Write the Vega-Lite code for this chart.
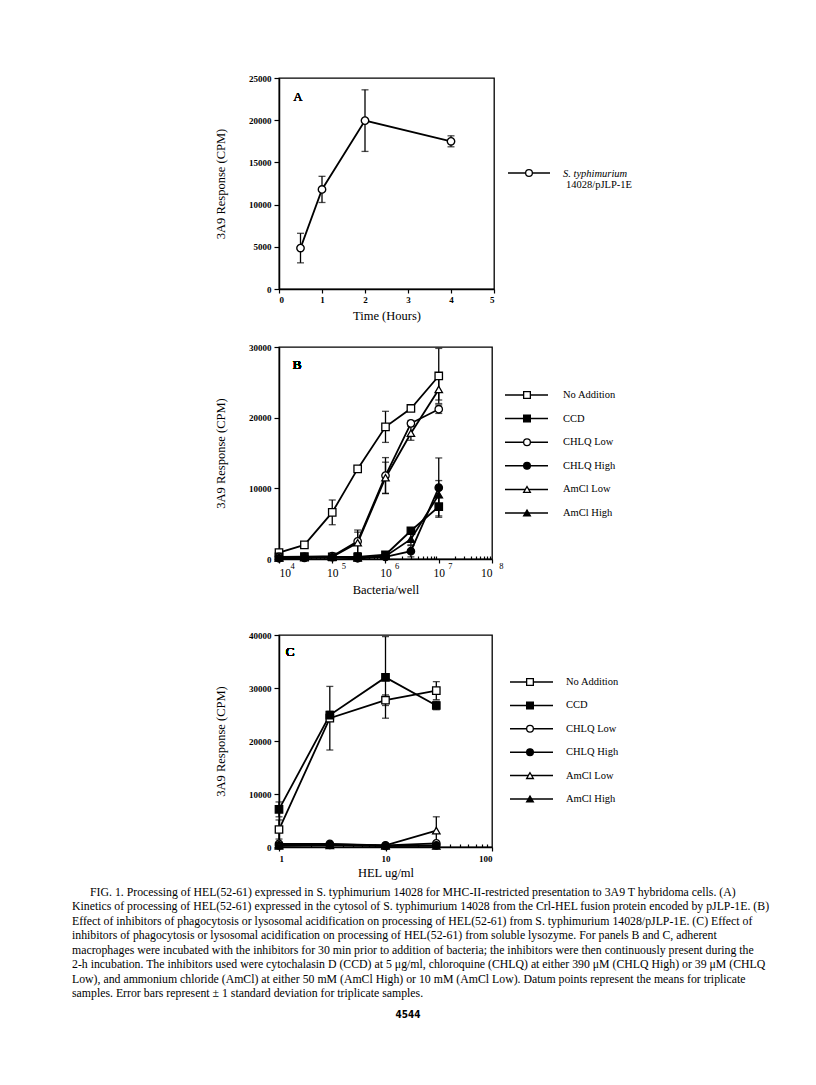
{
  "$schema": "https://vega.github.io/schema/vega-lite/v6.json",
  "background": "white",
  "autosize": {"type": "pad"},
  "padding": {"left": 72, "top": 73, "right": 5, "bottom": 5},
  "config": {
    "view": {"stroke": null},
    "font": "Liberation Serif",
    "axis": {
      "grid": false,
      "domainColor": "black",
      "domainWidth": 1.5,
      "tickColor": "black",
      "tickWidth": 1.2,
      "tickSize": 5,
      "labelColor": "black",
      "labelFont": "Liberation Serif",
      "labelFontWeight": "bold",
      "labelFontSize": 9,
      "labelPadding": 3,
      "titleFont": "Liberation Serif",
      "titleFontWeight": "normal",
      "titleFontSize": 12.5,
      "titleColor": "black"
    }
  },
  "datasets": {
    "a": [
      {"series": "S. typhimurium 14028/pJLP-1E", "x": 0.5, "y": 4850, "err": 1750},
      {"series": "S. typhimurium 14028/pJLP-1E", "x": 1, "y": 11800, "err": 1550},
      {"series": "S. typhimurium 14028/pJLP-1E", "x": 2, "y": 19950, "err": 3650},
      {"series": "S. typhimurium 14028/pJLP-1E", "x": 4, "y": 17500, "err": 650}
    ],
    "b": [
      {"series": "No Addition", "x": 10000, "y": 900, "err": 150},
      {"series": "No Addition", "x": 30000, "y": 2000, "err": 300},
      {"series": "No Addition", "x": 100000, "y": 6600, "err": 1750},
      {"series": "No Addition", "x": 300000, "y": 12750, "err": 0},
      {"series": "No Addition", "x": 1000000, "y": 18700, "err": 2200},
      {"series": "No Addition", "x": 3000000, "y": 21300, "err": 400},
      {"series": "No Addition", "x": 10000000, "y": 25900, "err": 3900},
      {"series": "CCD", "x": 10000, "y": 300, "err": 0},
      {"series": "CCD", "x": 30000, "y": 350, "err": 0},
      {"series": "CCD", "x": 100000, "y": 300, "err": 0},
      {"series": "CCD", "x": 300000, "y": 300, "err": 0},
      {"series": "CCD", "x": 1000000, "y": 600, "err": 400},
      {"series": "CCD", "x": 3000000, "y": 4000, "err": 400},
      {"series": "CCD", "x": 10000000, "y": 7400, "err": 1300},
      {"series": "CHLQ Low", "x": 10000, "y": 300, "err": 0},
      {"series": "CHLQ Low", "x": 30000, "y": 300, "err": 0},
      {"series": "CHLQ Low", "x": 100000, "y": 400, "err": 0},
      {"series": "CHLQ Low", "x": 300000, "y": 2500, "err": 1600},
      {"series": "CHLQ Low", "x": 1000000, "y": 11800, "err": 2550},
      {"series": "CHLQ Low", "x": 3000000, "y": 19200, "err": 400},
      {"series": "CHLQ Low", "x": 10000000, "y": 21200, "err": 600},
      {"series": "CHLQ High", "x": 10000, "y": 100, "err": 0},
      {"series": "CHLQ High", "x": 30000, "y": 150, "err": 0},
      {"series": "CHLQ High", "x": 100000, "y": 250, "err": 0},
      {"series": "CHLQ High", "x": 300000, "y": 100, "err": 0},
      {"series": "CHLQ High", "x": 1000000, "y": 300, "err": 0},
      {"series": "CHLQ High", "x": 3000000, "y": 1100, "err": 800},
      {"series": "CHLQ High", "x": 10000000, "y": 10100, "err": 4200},
      {"series": "AmCl Low", "x": 10000, "y": 200, "err": 0},
      {"series": "AmCl Low", "x": 30000, "y": 250, "err": 0},
      {"series": "AmCl Low", "x": 100000, "y": 300, "err": 0},
      {"series": "AmCl Low", "x": 300000, "y": 2300, "err": 1500},
      {"series": "AmCl Low", "x": 1000000, "y": 11500, "err": 2200},
      {"series": "AmCl Low", "x": 3000000, "y": 17800, "err": 1000},
      {"series": "AmCl Low", "x": 10000000, "y": 24000, "err": 1500},
      {"series": "AmCl High", "x": 10000, "y": 150, "err": 0},
      {"series": "AmCl High", "x": 30000, "y": 200, "err": 0},
      {"series": "AmCl High", "x": 100000, "y": 250, "err": 0},
      {"series": "AmCl High", "x": 300000, "y": 150, "err": 0},
      {"series": "AmCl High", "x": 1000000, "y": 400, "err": 0},
      {"series": "AmCl High", "x": 3000000, "y": 2800, "err": 800},
      {"series": "AmCl High", "x": 10000000, "y": 9100, "err": 2000}
    ],
    "c": [
      {"series": "No Addition", "x": 1, "y": 3300, "err": 1800},
      {"series": "No Addition", "x": 3, "y": 24300, "err": 6000},
      {"series": "No Addition", "x": 10, "y": 27700, "err": 1000},
      {"series": "No Addition", "x": 30, "y": 29500, "err": 1700},
      {"series": "CCD", "x": 1, "y": 7100, "err": 1400},
      {"series": "CCD", "x": 3, "y": 24900, "err": 700},
      {"series": "CCD", "x": 10, "y": 32000, "err": 7700},
      {"series": "CCD", "x": 30, "y": 26700, "err": 800},
      {"series": "CHLQ Low", "x": 1, "y": 600, "err": 0},
      {"series": "CHLQ Low", "x": 3, "y": 600, "err": 0},
      {"series": "CHLQ Low", "x": 10, "y": 300, "err": 0},
      {"series": "CHLQ Low", "x": 30, "y": 700, "err": 0},
      {"series": "CHLQ High", "x": 1, "y": 300, "err": 0},
      {"series": "CHLQ High", "x": 3, "y": 400, "err": 0},
      {"series": "CHLQ High", "x": 10, "y": 200, "err": 0},
      {"series": "CHLQ High", "x": 30, "y": 300, "err": 0},
      {"series": "AmCl Low", "x": 1, "y": 400, "err": 0},
      {"series": "AmCl Low", "x": 3, "y": 500, "err": 0},
      {"series": "AmCl Low", "x": 10, "y": 300, "err": 0},
      {"series": "AmCl Low", "x": 30, "y": 3100, "err": 2600},
      {"series": "AmCl High", "x": 1, "y": 200, "err": 0},
      {"series": "AmCl High", "x": 3, "y": 300, "err": 0},
      {"series": "AmCl High", "x": 10, "y": 200, "err": 0},
      {"series": "AmCl High", "x": 30, "y": 200, "err": 0}
    ],
    "legend6": [
      {"series": "No Addition", "order": 1},
      {"series": "CCD", "order": 2},
      {"series": "CHLQ Low", "order": 3},
      {"series": "CHLQ High", "order": 4},
      {"series": "AmCl Low", "order": 5},
      {"series": "AmCl High", "order": 6}
    ],
    "legendA": [
      {"species": "S. typhimurium", "strain": "14028/pJLP-1E", "order": 1}
    ],
    "caption": [
      {"line": 1, "text": "FIG. 1. Processing of HEL(52-61) expressed in S. typhimurium 14028 for MHC-II-restricted presentation to 3A9 T hybridoma cells. (A)"},
      {"line": 2, "text": "Kinetics of processing of HEL(52-61) expressed in the cytosol of S. typhimurium 14028 from the Crl-HEL fusion protein encoded by pJLP-1E. (B)"},
      {"line": 3, "text": "Effect of inhibitors of phagocytosis or lysosomal acidification on processing of HEL(52-61) from S. typhimurium 14028/pJLP-1E. (C) Effect of"},
      {"line": 4, "text": "inhibitors of phagocytosis or lysosomal acidification on processing of HEL(52-61) from soluble lysozyme. For panels B and C, adherent"},
      {"line": 5, "text": "macrophages were incubated with the inhibitors for 30 min prior to addition of bacteria; the inhibitors were then continuously present during the"},
      {"line": 6, "text": "2-h incubation. The inhibitors used were cytochalasin D (CCD) at 5 μg/ml, chloroquine (CHLQ) at either 390 μM (CHLQ High) or 39 μM (CHLQ"},
      {"line": 7, "text": "Low), and ammonium chloride (AmCl) at either 50 mM (AmCl High) or 10 mM (AmCl Low). Datum points represent the means for triplicate"},
      {"line": 8, "text": "samples. Error bars represent ± 1 standard deviation for triplicate samples."}
    ]
  },
  "columns": 2,
  "bounds": "flush",
  "align": "each",
  "spacing": {"row": 40, "column": 5},
  "concat": [
    {
      "width": 215,
      "height": 211,
      "view": {"stroke": "black", "strokeWidth": 1.3},
      "data": {"name": "a"},
      "layer": [
        {
          "mark": {"type": "line", "color": "black", "strokeWidth": 1.8},
          "encoding": {
            "x": {"field": "x", "type": "quantitative", "scale": {"domain": [0, 5], "nice": false},
                  "axis": {"values": [0, 1, 2, 3, 4, 5], "format": "d", "title": "Time (Hours)", "tickSize": 4, "labelPadding": 2, "titlePadding": 5}},
            "y": {"field": "y", "type": "quantitative", "scale": {"domain": [0, 25000], "nice": false},
                  "axis": {"values": [0, 5000, 10000, 15000, 20000, 25000], "format": "d", "title": "3A9 Response (CPM)", "titlePadding": 21}},
            "detail": {"field": "series"}
          }
        },
        {
          "transform": [{"filter": "datum.err > 0"}],
          "mark": {"type": "errorbar", "color": "black", "thickness": 1.3, "ticks": {"size": 7, "color": "black"}},
          "encoding": {
            "x": {"field": "x", "type": "quantitative"},
            "y": {"field": "y", "type": "quantitative", "title": "3A9 Response (CPM)"},
            "yError": {"field": "err"}
          }
        },
        {
          "mark": {"type": "point", "shape": "circle", "filled": true, "fill": "white", "stroke": "black", "strokeWidth": 1.4, "opacity": 1, "size": 55},
          "encoding": {
            "x": {"field": "x", "type": "quantitative"},
            "y": {"field": "y", "type": "quantitative"}
          }
        },
        {
          "mark": {"type": "text", "fontSize": 13, "fontWeight": "normal", "font": "Liberation Serif", "color": "black", "align": "center", "baseline": "middle"},
          "encoding": {
            "x": {"datum": 0.44, "type": "quantitative"},
            "y": {"datum": 22750, "type": "quantitative"},
            "text": {"value": "A"}
          }
        }
      ]
    },
    {
      "width": 130,
      "height": 229,
      "data": {"name": "legendA"},
      "layer": [
        {
          "mark": {"type": "rule", "color": "black", "strokeWidth": 1.5},
          "encoding": {
            "x": {"datum": 9, "type": "quantitative", "scale": {"domain": [0, 130], "nice": false}, "axis": null},
            "x2": {"datum": 51},
            "y": {"field": "order", "type": "quantitative", "scale": {"domain": [0, 2.4105], "reverse": true, "nice": false, "zero": false}, "axis": null}
          }
        },
        {
          "mark": {"type": "point", "shape": "circle", "filled": true, "fill": "white", "stroke": "black", "strokeWidth": 1.3, "opacity": 1, "size": 45},
          "encoding": {
            "x": {"datum": 30, "type": "quantitative"},
            "y": {"field": "order", "type": "quantitative"}
          }
        },
        {
          "mark": {"type": "text", "align": "left", "baseline": "middle", "fontSize": 10.5, "fontStyle": "italic", "font": "Liberation Serif", "color": "black", "dy": 1},
          "encoding": {
            "x": {"datum": 64, "type": "quantitative"},
            "y": {"field": "order", "type": "quantitative"},
            "text": {"field": "species"}
          }
        },
        {
          "mark": {"type": "text", "align": "left", "baseline": "middle", "fontSize": 10.5, "font": "Liberation Serif", "color": "black", "dy": 12},
          "encoding": {
            "x": {"datum": 67, "type": "quantitative"},
            "y": {"field": "order", "type": "quantitative"},
            "text": {"field": "strain"}
          }
        }
      ]
    },
    {
      "width": 213,
      "height": 212,
      "view": {"stroke": "black", "strokeWidth": 1.3},
      "data": {"name": "b"},
      "resolve": {"axis": {"x": "independent"}},
      "layer": [
        {
          "mark": {"type": "line", "color": "black", "strokeWidth": 1.8},
          "encoding": {
            "x": {"field": "x", "type": "quantitative", "scale": {"type": "log", "domain": [10000, 100000000], "nice": false},
                  "axis": {"orient": "bottom", "values": [10000, 100000, 1000000, 10000000, 100000000], "labelExpr": "'10'", "labelFontSize": 11.5, "labelFontWeight": "normal", "title": "Bacteria/well", "tickSize": 4, "labelPadding": 4, "titlePadding": 5}},
            "y": {"field": "y", "type": "quantitative", "scale": {"domain": [0, 30000], "nice": false},
                  "axis": {"values": [0, 5000, 10000, 15000, 20000, 25000, 30000], "format": "d", "title": "3A9 Response (CPM)", "titlePadding": 21}},
            "detail": {"field": "series"}
          }
        },
        {
          "transform": [{"filter": "datum.err > 0"}],
          "mark": {"type": "errorbar", "color": "black", "thickness": 1.3, "ticks": {"size": 7, "color": "black"}},
          "encoding": {
            "x": {"field": "x", "type": "quantitative", "axis": null},
            "y": {"field": "y", "type": "quantitative", "title": "3A9 Response (CPM)"},
            "yError": {"field": "err"}
          }
        },
        {
          "mark": {"type": "point", "filled": true, "stroke": "black", "strokeWidth": 1.3, "opacity": 1, "size": 55},
          "encoding": {
            "x": {"field": "x", "type": "quantitative",
                  "axis": {"orient": "bottom", "values": [20000, 30000, 40000, 50000, 60000, 70000, 80000, 90000, 200000, 300000, 400000, 500000, 600000, 700000, 800000, 900000, 2000000, 3000000, 4000000, 5000000, 6000000, 7000000, 8000000, 9000000, 20000000, 30000000, 40000000, 50000000, 60000000, 70000000, 80000000, 90000000], "labels": false, "domain": false, "tickSize": -3, "title": null}},
            "y": {"field": "y", "type": "quantitative"},
            "shape": {"field": "series", "type": "nominal", "scale": {"domain": ["No Addition", "CCD", "CHLQ Low", "CHLQ High", "AmCl Low", "AmCl High"], "range": ["square", "square", "circle", "circle", "triangle-up", "triangle-up"]}, "legend": null},
            "fill": {"field": "series", "type": "nominal", "scale": {"domain": ["No Addition", "CCD", "CHLQ Low", "CHLQ High", "AmCl Low", "AmCl High"], "range": ["white", "black", "white", "black", "white", "black"]}, "legend": null}
          }
        },
        {
          "mark": {"type": "text", "fontSize": 13, "fontWeight": "normal", "font": "Liberation Serif", "color": "black", "align": "center", "baseline": "middle"},
          "encoding": {
            "x": {"datum": 21800, "type": "quantitative",
                  "axis": {"orient": "bottom", "values": [10000, 100000, 1000000, 10000000, 100000000], "labelExpr": "round(log(datum.value)/LN10)", "labelFontSize": 8.5, "labelFontWeight": "normal", "labelOffset": 11, "labelPadding": 2, "ticks": false, "tickSize": 0, "domain": false, "title": null}},
            "y": {"datum": 27450, "type": "quantitative"},
            "text": {"value": "B"}
          }
        }
      ]
    },
    {
      "width": 130,
      "height": 248,
      "data": {"name": "legend6"},
      "layer": [
        {
          "mark": {"type": "rule", "color": "black", "strokeWidth": 1.5},
          "encoding": {
            "x": {"datum": 6, "type": "quantitative", "scale": {"domain": [0, 130], "nice": false}, "axis": null},
            "x2": {"datum": 49},
            "y": {"field": "order", "type": "quantitative", "scale": {"domain": [-1.0339, 9.4746], "reverse": true, "nice": false, "zero": false}, "axis": null}
          }
        },
        {
          "mark": {"type": "point", "filled": true, "stroke": "black", "strokeWidth": 1.3, "opacity": 1, "size": 45},
          "encoding": {
            "x": {"datum": 28, "type": "quantitative"},
            "y": {"field": "order", "type": "quantitative"},
            "shape": {"field": "series", "type": "nominal", "scale": {"domain": ["No Addition", "CCD", "CHLQ Low", "CHLQ High", "AmCl Low", "AmCl High"], "range": ["square", "square", "circle", "circle", "triangle-up", "triangle-up"]}, "legend": null},
            "fill": {"field": "series", "type": "nominal", "scale": {"domain": ["No Addition", "CCD", "CHLQ Low", "CHLQ High", "AmCl Low", "AmCl High"], "range": ["white", "black", "white", "black", "white", "black"]}, "legend": null}
          }
        },
        {
          "mark": {"type": "text", "align": "left", "baseline": "middle", "fontSize": 10.5, "font": "Liberation Serif", "color": "black"},
          "encoding": {
            "x": {"datum": 64, "type": "quantitative"},
            "y": {"field": "order", "type": "quantitative"},
            "text": {"field": "series"}
          }
        }
      ]
    },
    {
      "width": 213,
      "height": 212,
      "view": {"stroke": "black", "strokeWidth": 1.3},
      "data": {"name": "c"},
      "resolve": {"axis": {"x": "independent"}},
      "layer": [
        {
          "mark": {"type": "line", "color": "black", "strokeWidth": 1.8},
          "encoding": {
            "x": {"field": "x", "type": "quantitative", "scale": {"type": "log", "domain": [1, 100], "nice": false},
                  "axis": {"values": [1, 10, 100], "format": "d", "title": "HEL ug/ml", "tickSize": 4, "labelPadding": 3, "titlePadding": 3}},
            "y": {"field": "y", "type": "quantitative", "scale": {"domain": [0, 40000], "nice": false},
                  "axis": {"values": [0, 10000, 20000, 30000, 40000], "format": "d", "title": "3A9 Response (CPM)", "titlePadding": 21}},
            "detail": {"field": "series"}
          }
        },
        {
          "transform": [{"filter": "datum.err > 0"}],
          "mark": {"type": "errorbar", "color": "black", "thickness": 1.3, "ticks": {"size": 7, "color": "black"}},
          "encoding": {
            "x": {"field": "x", "type": "quantitative", "axis": null},
            "y": {"field": "y", "type": "quantitative", "title": "3A9 Response (CPM)"},
            "yError": {"field": "err"}
          }
        },
        {
          "mark": {"type": "point", "filled": true, "stroke": "black", "strokeWidth": 1.3, "opacity": 1, "size": 55},
          "encoding": {
            "x": {"field": "x", "type": "quantitative",
                  "axis": {"orient": "bottom", "values": [2, 3, 4, 5, 6, 7, 8, 9, 20, 30, 40, 50, 60, 70, 80, 90], "labels": false, "domain": false, "tickSize": -3, "title": null}},
            "y": {"field": "y", "type": "quantitative"},
            "shape": {"field": "series", "type": "nominal", "scale": {"domain": ["No Addition", "CCD", "CHLQ Low", "CHLQ High", "AmCl Low", "AmCl High"], "range": ["square", "square", "circle", "circle", "triangle-up", "triangle-up"]}, "legend": null},
            "fill": {"field": "series", "type": "nominal", "scale": {"domain": ["No Addition", "CCD", "CHLQ Low", "CHLQ High", "AmCl Low", "AmCl High"], "range": ["white", "black", "white", "black", "white", "black"]}, "legend": null}
          }
        },
        {
          "mark": {"type": "text", "fontSize": 13, "fontWeight": "normal", "font": "Liberation Serif", "color": "black", "align": "center", "baseline": "middle"},
          "encoding": {
            "x": {"datum": 1.27, "type": "quantitative", "axis": null},
            "y": {"datum": 36800, "type": "quantitative"},
            "text": {"value": "C"}
          }
        }
      ]
    },
    {
      "width": 130,
      "height": 212,
      "data": {"name": "legend6"},
      "layer": [
        {
          "mark": {"type": "rule", "color": "black", "strokeWidth": 1.5},
          "encoding": {
            "x": {"datum": 11, "type": "quantitative", "scale": {"domain": [0, 130], "nice": false}, "axis": null},
            "x2": {"datum": 54},
            "y": {"field": "order", "type": "quantitative", "scale": {"domain": [-1.0085, 8.0513], "reverse": true, "nice": false, "zero": false}, "axis": null}
          }
        },
        {
          "mark": {"type": "point", "filled": true, "stroke": "black", "strokeWidth": 1.3, "opacity": 1, "size": 45},
          "encoding": {
            "x": {"datum": 31, "type": "quantitative"},
            "y": {"field": "order", "type": "quantitative"},
            "shape": {"field": "series", "type": "nominal", "scale": {"domain": ["No Addition", "CCD", "CHLQ Low", "CHLQ High", "AmCl Low", "AmCl High"], "range": ["square", "square", "circle", "circle", "triangle-up", "triangle-up"]}, "legend": null},
            "fill": {"field": "series", "type": "nominal", "scale": {"domain": ["No Addition", "CCD", "CHLQ Low", "CHLQ High", "AmCl Low", "AmCl High"], "range": ["white", "black", "white", "black", "white", "black"]}, "legend": null}
          }
        },
        {
          "mark": {"type": "text", "align": "left", "baseline": "middle", "fontSize": 10.5, "font": "Liberation Serif", "color": "black"},
          "encoding": {
            "x": {"datum": 67, "type": "quantitative"},
            "y": {"field": "order", "type": "quantitative"},
            "text": {"field": "series"}
          }
        }
      ]
    },
    {
      "width": 213,
      "height": 130,
      "data": {"name": "caption"},
      "layer": [
        {
          "transform": [{"filter": "datum.line > 1"}],
          "mark": {"type": "text", "align": "left", "baseline": "middle", "fontSize": 11.8, "font": "Liberation Serif", "color": "black"},
          "encoding": {
            "x": {"datum": 0, "type": "quantitative", "scale": {"domain": [207, 420], "nice": false, "zero": false}, "axis": null},
            "y": {"field": "line", "type": "quantitative", "scale": {"domain": [0.653, 9.663], "reverse": true, "nice": false, "zero": false}, "axis": null},
            "text": {"field": "text"}
          }
        },
        {
          "transform": [{"filter": "datum.line == 1"}],
          "mark": {"type": "text", "align": "left", "baseline": "middle", "fontSize": 11.8, "font": "Liberation Serif", "color": "black"},
          "encoding": {
            "x": {"datum": 18, "type": "quantitative"},
            "y": {"field": "line", "type": "quantitative"},
            "text": {"field": "text"}
          }
        },
        {
          "data": {"values": [{"page": "4544"}]},
          "mark": {"type": "text", "align": "center", "baseline": "middle", "fontSize": 10, "fontWeight": "bold", "font": "Liberation Sans Narrow, DejaVu Sans Condensed, sans-serif", "color": "black"},
          "encoding": {
            "x": {"datum": 336, "type": "quantitative"},
            "y": {"datum": 9.52, "type": "quantitative"},
            "text": {"field": "page"}
          }
        }
      ]
    }
  ]
}
